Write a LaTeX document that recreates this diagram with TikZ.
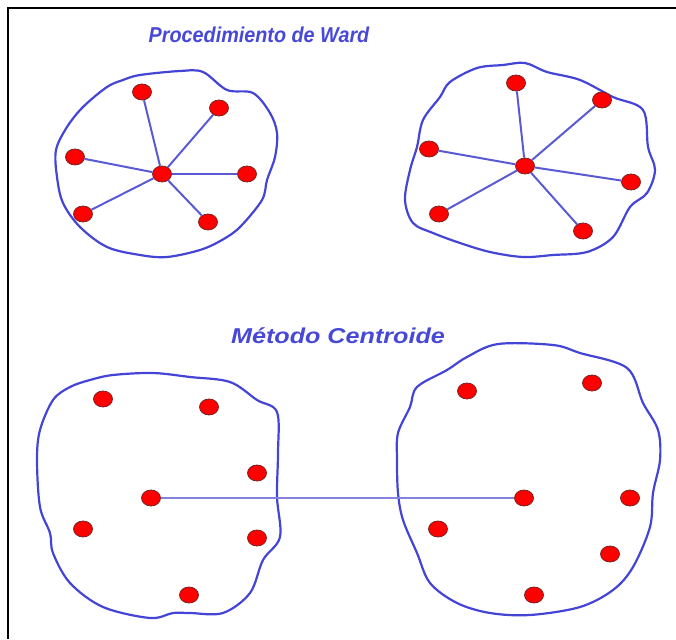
\documentclass[tikz,border=0pt]{standalone}
\usepackage{fontspec}
\setmainfont{Liberation Sans}
\newfontfamily\wardfont[FakeStretch=0.92]{Liberation Sans}
\newfontfamily\centfont[FakeStretch=1.17]{Liberation Sans}
\usepackage{xcolor}
\definecolor{BlobBlue}{HTML}{4444D6}
\definecolor{SpokeBlue}{HTML}{5A5AD4}
\definecolor{ObsRed}{HTML}{FF0000}
\definecolor{ObsEdge}{HTML}{7A2424}
\definecolor{TitleBlue}{HTML}{4848D8}
\usetikzlibrary{shapes.geometric}

\begin{document}
\begin{tikzpicture}[
  x=1pt,y=-1pt,
  obs/.style={ellipse,draw=ObsEdge,fill=ObsRed,line width=0.8pt,minimum width=19pt,minimum height=16pt,inner sep=0pt},
  blob/.style={draw=BlobBlue,line width=2.2pt,line join=round},
  spoke/.style={draw=SpokeBlue,line width=2pt},
  link/.style={draw=SpokeBlue!75,line width=1.6pt},
  heading/.style={text=TitleBlue}
]
\useasboundingbox (0,0) rectangle (676,639);
\draw[line width=2.5pt] (676,8) -- (8,8) -- (8,639);

\node[heading,font=\wardfont\fontsize{21.5}{26}\selectfont\bfseries\itshape] (ward) at (259,35) {Procedimiento de Ward};
\node[heading,font=\centfont\fontsize{21.5}{26}\selectfont\bfseries\itshape] (centroide) at (338,336) {Método Centroide};

\draw[blob] plot[smooth cycle,tension=0.55] coordinates {(140,75) (180,71) (203,72) (227,90) (253,93) (270,113) (277,133) (275,157) (267,180) (262,200) (240,227) (222,240) (200,250) (167,257) (140,255) (107,247) (80,227) (63,203) (57,177) (56,150) (67,127) (83,107) (107,87) (123,80)};
\draw[blob] plot[smooth cycle,tension=0.55] coordinates {(450,82) (477,68) (503,65) (525,63) (547,72) (580,80) (613,97) (643,110) (648,147) (655,170) (647,193) (630,207) (613,237) (587,252) (553,255) (523,257) (490,252) (460,243) (433,233) (413,223) (405,200) (410,170) (417,147) (423,120) (440,97)};
\draw[blob] plot[smooth cycle,tension=0.55] coordinates {(113,375) (153,373) (190,377) (230,382) (257,400) (277,412) (278,453) (277,497) (280,537) (263,560) (250,593) (223,613) (190,613) (173,613) (150,618) (103,607) (70,583) (53,553) (50,533) (40,507) (37,460) (40,430) (53,400) (70,387) (90,380)};
\draw[blob] plot[smooth cycle,tension=0.55] coordinates {(498,344) (553,345) (580,353) (627,368) (643,403) (658,430) (660,460) (653,493) (650,527) (633,567) (613,590) (580,607) (530,615) (490,613) (457,603) (430,583) (417,553) (403,520) (398,493) (397,460) (398,433) (410,407) (417,387) (447,370) (467,357)};

\node[obs] (wa0) at (162,174) {};
\node[obs] (wa1) at (142,92) {};
\node[obs] (wa2) at (219,108) {};
\node[obs] (wa3) at (75,157) {};
\node[obs] (wa4) at (247,174) {};
\node[obs] (wa5) at (83,214) {};
\node[obs] (wa6) at (208,222) {};

\node[obs] (wb0) at (525,166) {};
\node[obs] (wb1) at (516,83) {};
\node[obs] (wb2) at (602,100) {};
\node[obs] (wb3) at (429,149) {};
\node[obs] (wb4) at (631,182) {};
\node[obs] (wb5) at (439,214) {};
\node[obs] (wb6) at (583,231) {};

\node[obs] (ca0) at (151,498) {};
\node[obs] (ca1) at (103,399) {};
\node[obs] (ca2) at (209,407) {};
\node[obs] (ca3) at (257,473) {};
\node[obs] (ca4) at (83,529) {};
\node[obs] (ca5) at (257,538) {};
\node[obs] (ca6) at (189,595) {};

\node[obs] (cb0) at (524,498) {};
\node[obs] (cb1) at (467,391) {};
\node[obs] (cb2) at (592,383) {};
\node[obs] (cb3) at (630,498) {};
\node[obs] (cb4) at (438,529) {};
\node[obs] (cb5) at (610,554) {};
\node[obs] (cb6) at (534,595) {};

\foreach \i in {1,...,6} {
  \draw[spoke] (wa0) -- (wa\i);
  \draw[spoke] (wb0) -- (wb\i);
}
\draw[link] (ca0) -- (cb0);
\end{tikzpicture}
\end{document}
